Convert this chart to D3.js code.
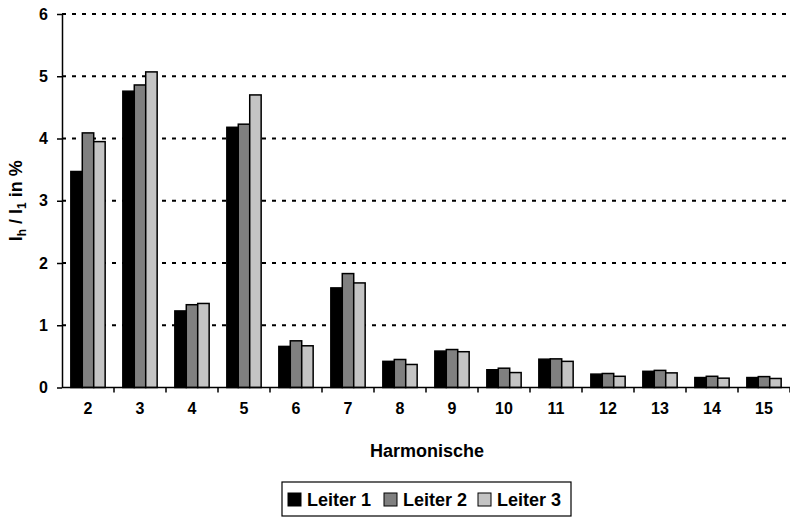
<!DOCTYPE html>
<meta charset="utf-8">
<style>
body { margin: 0; background: #fff; }
svg { font-family: "Liberation Sans", Arial, sans-serif; font-weight: bold; }
.grid line { stroke: #000; stroke-width: 2px; stroke-dasharray: 4,6; }
.axis path, .axis line { stroke: #000; stroke-width: 1.5px; }
.axis text { font-family: "Liberation Sans", Arial, sans-serif; font-size: 16px; font-weight: bold; fill: #000; }
</style>
<svg width="790" height="518"></svg>
<script src="https://cdnjs.cloudflare.com/ajax/libs/d3/7.8.5/d3.min.js"></script>
<script>
// harmonic orders
var harmonics = ["2","3","4","5","6","7","8","9","10","11","12","13","14","15"];
var seriesNames = ["Leiter 1", "Leiter 2", "Leiter 3"];
var leiter1 = [3.47, 4.76, 1.23, 4.18, 0.66, 1.60, 0.42, 0.585, 0.285, 0.455, 0.215, 0.26, 0.16, 0.16];
var leiter2 = [4.09, 4.86, 1.33, 4.23, 0.75, 1.83, 0.45, 0.61, 0.31, 0.46, 0.225, 0.275, 0.18, 0.175];
var leiter3 = [3.95, 5.07, 1.35, 4.70, 0.67, 1.68, 0.37, 0.575, 0.24, 0.42, 0.18, 0.235, 0.15, 0.145];
var yTicks = [0, 1, 2, 3, 4, 5, 6];
var colors = ["#000000", "#808080", "#c4c4c4"];

var svg = d3.select("svg"),
    margin = {top: 14, right: 0, bottom: 130.5, left: 62},
    width = +svg.attr("width") - margin.left - margin.right,
    height = +svg.attr("height") - margin.top - margin.bottom,
    g = svg.append("g").attr("transform", "translate(" + margin.left + "," + margin.top + ")");

var allSeries = [leiter1, leiter2, leiter3];
var data = harmonics.map(function(h, i) {
  return {h: h, values: allSeries.map(function(s, j) { return {key: seriesNames[j], value: s[i]}; })};
});

var x0 = d3.scaleBand().domain(harmonics).range([0, width]).padding(0);
var x1 = d3.scaleBand().domain(seriesNames)
    .range([x0.bandwidth() * 0.17, x0.bandwidth() * 0.83]).padding(0);
var y = d3.scaleLinear().domain([0, 6]).range([height, 0]);
var z = d3.scaleOrdinal().domain(seriesNames).range(colors);

// dotted gridlines
g.append("g").attr("class", "grid")
  .selectAll("line").data(yTicks.slice(1)).enter().append("line")
    .attr("x1", 0).attr("x2", width)
    .attr("y1", function(d) { return y(d); })
    .attr("y2", function(d) { return y(d); });

// bars
var groups = g.selectAll(".grp").data(data).enter().append("g")
    .attr("class", "grp")
    .attr("transform", function(d) { return "translate(" + x0(d.h) + ",0)"; });

groups.selectAll("rect").data(function(d) { return d.values; }).enter().append("rect")
    .attr("x", function(d) { return x1(d.key); })
    .attr("width", x1.bandwidth())
    .attr("y", function(d) { return y(d.value); })
    .attr("height", function(d) { return height - y(d.value); })
    .attr("fill", function(d) { return z(d.key); })
    .attr("stroke", "#000")
    .attr("stroke-width", 1.5);

// y axis
g.append("g").attr("class", "axis axis--y")
    .call(d3.axisLeft(y).tickValues(yTicks).tickFormat(d3.format("d"))
      .tickSize(5).tickPadding(9).tickSizeOuter(0));

// x axis, ticks between categories
var xa = g.append("g").attr("class", "axis axis--x")
    .attr("transform", "translate(0," + height + ")");
xa.append("line").attr("x1", 0).attr("x2", width).attr("y1", 0).attr("y2", 0);
xa.selectAll(".tk").data(harmonics).enter().append("line")
    .attr("class", "tk")
    .attr("x1", function(d) { return x0(d) + x0.bandwidth(); })
    .attr("x2", function(d) { return x0(d) + x0.bandwidth(); })
    .attr("y1", 0).attr("y2", 5);
xa.selectAll("text").data(harmonics).enter().append("text")
    .attr("x", function(d) { return x0(d) + x0.bandwidth() / 2; })
    .attr("y", 26)
    .attr("text-anchor", "middle")
    .text(function(d) { return d; });

// axis titles
svg.append("text")
    .attr("x", 427).attr("y", 457)
    .attr("text-anchor", "middle")
    .style("font-size", "18px")
    .text("Harmonische");

var yt = svg.append("text")
    .attr("transform", "translate(22," + (margin.top + height / 2) + ") rotate(-90)")
    .attr("text-anchor", "middle")
    .style("font-size", "18px");
yt.append("tspan").text("I");
yt.append("tspan").attr("dy", 4).style("font-size", "12px").text("h");
yt.append("tspan").attr("dy", -4).text(" / I");
yt.append("tspan").attr("dy", 4).style("font-size", "12px").text("1");
yt.append("tspan").attr("dy", -4).text(" in %");

// legend
var legend = svg.append("g").attr("transform", "translate(282,482)");
legend.append("rect")
    .attr("width", 289).attr("height", 34)
    .attr("fill", "#fff").attr("stroke", "#000").attr("stroke-width", 1.2);

var itemX = [6, 102, 196];
var item = legend.selectAll(".item").data(seriesNames).enter().append("g")
    .attr("class", "item")
    .attr("transform", function(d, i) { return "translate(" + itemX[i] + ",11)"; });
item.append("rect")
    .attr("width", 13).attr("height", 13)
    .attr("fill", function(d) { return z(d); })
    .attr("stroke", "#000").attr("stroke-width", 1);
item.append("text")
    .attr("x", 19).attr("y", 13)
    .style("font-size", "18px")
    .text(function(d) { return d; });
</script>
